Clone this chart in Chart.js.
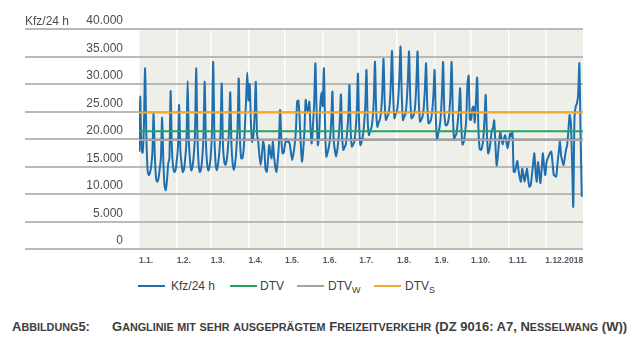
<!DOCTYPE html>
<html lang="de">
<head>
<meta charset="utf-8">
<script src="https://cdn.jsdelivr.net/npm/chart.js@4.4.1/dist/chart.umd.min.js"></script>
<style>
  body { margin:0; background:#fff; font-family:"Liberation Sans", Arial, sans-serif; }
  #wrap { position:relative; width:641px; height:346px; overflow:hidden; }
  #chartBox { position:absolute; left:0; top:0; width:641px; height:275px; }
  .ytitle { position:absolute; left:25px; top:14px; font-size:12px; line-height:14px; color:#4d4d4d; }
  .sw { position:absolute; top:285px; width:27px; height:2px; }
  .leg { position:absolute; top:279px; font-size:12px; line-height:14px; color:#404040; white-space:nowrap; }
  .leg sub { font-size:9px; vertical-align:-3px; line-height:0; }
  .cap { position:absolute; top:320px; font-size:13px; line-height:14px; font-weight:bold; color:#3d3d3d; white-space:nowrap; }
  .cap .sc { font-size:10.8px; text-transform:uppercase; }
</style>
</head>
<body>
<div id="wrap">
  <div id="chartBox"><canvas id="c"></canvas></div>
  <div class="ytitle">Kfz/24 h</div>
  <div id="legend"></div>
  <div class="cap" style="left:12px">Abbildung5:</div>
  <div class="cap" style="left:112px">Ganglinie mit sehr ausgeprägtem Freizeitverkehr (DZ 9016: A7, Nesselwang (W))</div>
</div>
<script>
// Tagesbeginn der Monate (Tag 0 = 1.1.2018)
const monthStarts = [0, 31, 59, 90, 120, 151, 181, 212, 243, 273, 304, 334];
const monthLabels = ['1.1.', '1.2.', '1.3.', '1.4.', '1.5.', '1.6.', '1.7.', '1.8.', '1.9.', '1.10.', '1.11.', '1.12.2018'];
const yTicks = [0, 5000, 10000, 15000, 20000, 25000, 30000, 35000, 40000];

// Kfz/24 h, je Zeile eine Woche (Mo..So)
const kfz = [
  17700, 27700, 18000, 17500, 22000, 32850, 21000,
  14500, 13450, 13800, 15000, 17500, 24700, 17000,
  13000, 12250, 12800, 14500, 16500, 23900, 16000,
  11500, 10700, 12500, 15500, 16500, 28700, 18500,
  15000, 14000, 14300, 16000, 18500, 26200, 18000,
  15500, 14000, 14500, 16500, 19500, 30550, 19500,
  16000, 14300, 15000, 17000, 20500, 32850, 21000,
  15500, 14000, 14500, 16500, 20500, 30400, 19500,
  15500, 14300, 15000, 17000, 21500, 34050, 20500,
  15500, 14300, 15500, 17500, 21000, 30100, 19000,
  16000, 15300, 16000, 18000, 21500, 28500, 19000,
  15500, 14350, 15500, 18000, 22000, 31000, 20000,
  16500, 16500, 18000, 22000, 27000, 32100, 27000,
  30000, 23000, 19500, 20500, 24000, 30400, 21000,
  19500, 17000, 15300, 17000, 19500, 18500, 14500,
  14050, 16000, 18900, 17500, 16500, 19500, 17000,
  15000, 14050, 16000, 19000, 25270, 20000, 17400,
  17500, 19000, 20000, 19500, 19500, 19000, 17400,
  16200, 17400, 19000, 21600, 26800, 27000, 24000,
  19000, 15900, 18000, 21500, 27100, 25500, 25000,
  26800, 22000, 19200, 22500, 26500, 33750, 25000,
  18900, 20500, 26000, 28500, 26000, 32850, 22000,
  16800, 17500, 18500, 20000, 23000, 28600, 20000,
  18000, 16800, 18000, 20000, 23000, 28100, 20500,
  18000, 18500, 19000, 21000, 24000, 29800, 21500,
  18600, 19000, 19500, 21500, 25000, 31900, 22500,
  18900, 19500, 20500, 22500, 26000, 32550, 23500,
  20700, 21500, 22000, 23500, 27000, 34050, 25000,
  22240, 23000, 23500, 25000, 28500, 34550, 26500,
  23450, 24000, 24500, 26000, 30000, 36000, 27500,
  23760, 24500, 25000, 27000, 31000, 36800, 28000,
  23450, 24000, 24500, 26500, 30500, 35900, 27500,
  23760, 24000, 24500, 26000, 30000, 35900, 27000,
  23150, 23500, 24000, 25500, 29000, 33750, 26000,
  22850, 23000, 23500, 25000, 28000, 32550, 24000,
  19800, 21000, 22000, 24000, 28000, 34000, 25000,
  22540, 22500, 23000, 24500, 28000, 34000, 24500,
  20100, 20500, 21000, 23000, 25500, 29200, 22000,
  19000, 19500, 21000, 23500, 30000, 31500, 23500,
  23500, 25500, 25900, 23000, 27000, 31150, 22000,
  18300, 18000, 18500, 20000, 23500, 28000, 21000,
  17400, 18000, 19500, 21500, 22000, 23400, 19000,
  15200, 17000, 19500, 21300, 20000, 19000, 20000,
  20700, 19500, 18300, 19500, 21000, 20500, 21300,
  14050, 14050, 15000, 16000, 14300, 13000, 12250,
  14600, 13500, 12250, 13500, 14600, 12500, 11330,
  11600, 13500, 15500, 17400, 14000, 12250, 15800,
  14000, 12000, 14500, 17400, 15000, 13450, 15800,
  16500, 17000, 17500, 17700, 15500, 13450, 13300,
  13150, 15500, 17500, 19500, 17000, 16000, 15270,
  16500, 18000, 18900, 21500, 24360, 23000, 16000,
  7700, 24000, 25900, 26500, 28000, 33750, 21000,
  9500
];

const dtv = 21400;
const dtvW = 19800;
const dtvS = 24800;

const colKfz = '#1f6fae';
const colDtv = '#22a55b';
const colDtvW = '#a3a3a3';
const colDtvS = '#f4a933';

function fmt(v){
  return String(v).replace(/\B(?=(\d{3})+(?!\d))/g, '.');
}

function flat(v){
  return [{x: 0, y: v}, {x: 365, y: v}];
}

const plotBg = {
  id: 'plotBg',
  beforeDraw(chart){
    const {ctx, chartArea: a} = chart;
    ctx.save();
    ctx.fillStyle = '#efefea';
    ctx.fillRect(a.left, a.top, a.right - a.left, a.bottom - a.top);
    ctx.restore();
  },
  beforeDatasetsDraw(chart){
    const {ctx, chartArea: a} = chart;
    const y = chart.scales.y;
    ctx.save();
    ctx.strokeStyle = '#b9b9b5';
    ctx.lineWidth = 2;
    yTicks.forEach(v => {
      const py = Math.round(y.getPixelForValue(v));
      ctx.beginPath();
      ctx.moveTo(25, py);
      ctx.lineTo(a.right, py);
      ctx.stroke();
    });
    ctx.restore();
  }
};

const line = (label, data, color, order, tension) => ({
  label, data, borderColor: color, backgroundColor: color,
  borderWidth: 2, pointRadius: 0, tension: tension || 0, order, fill: false
});

new Chart(document.getElementById('c'), {
  type: 'line',
  data: {
    datasets: [
      line('DTV_S', flat(dtvS), colDtvS, 0),
      line('DTV', flat(dtv), colDtv, 1),
      line('DTV_W', flat(dtvW), colDtvW, 2),
      line('Kfz/24 h', kfz.map((v, i) => ({x: i, y: v})), colKfz, 3, 0.25)
    ]
  },
  options: {
    responsive: true,
    maintainAspectRatio: false,
    devicePixelRatio: 1,
    animation: false,
    layout: { padding: { top: 29, right: 58, left: 0, bottom: 0 } },
    plugins: { legend: { display: false }, tooltip: { enabled: false } },
    scales: {
      x: {
        type: 'linear', min: 0, max: 365,
        afterBuildTicks: s => { s.ticks = monthStarts.map(v => ({value: v})); },
        afterFit: s => { s.height = 26; },
        grid: { color: '#ffffff', lineWidth: 1.5, drawTicks: false },
        border: { display: false },
        ticks: {
          callback: (v, i) => monthLabels[i],
          align: 'start', autoSkip: false, maxRotation: 0,
          padding: 7, color: '#535a68',
          font: { family: '"Liberation Sans", Arial, sans-serif', size: 8.5, weight: 'bold' }
        }
      },
      y: {
        min: 0, max: 40000,
        afterBuildTicks: s => { s.ticks = yTicks.map(v => ({value: v})); },
        afterFit: s => { s.width = 139; },
        grid: { display: false },
        border: { display: false },
        ticks: {
          callback: v => fmt(v),
          padding: 8, labelOffset: -8, color: '#4d4d4d',
          font: { family: '"Liberation Sans", Arial, sans-serif', size: 12 }
        }
      }
    }
  },
  plugins: [plotBg]
});

// Legende mit tiefgestellten Indizes
const legendItems = [
  {name: 'Kfz/24 h', sub: '', color: colKfz, sw: 138, tx: 171},
  {name: 'DTV', sub: '', color: colDtv, sw: 230, tx: 260},
  {name: 'DTV', sub: 'W', color: colDtvW, sw: 297, tx: 328},
  {name: 'DTV', sub: 'S', color: colDtvS, sw: 374, tx: 405}
];
const lg = document.getElementById('legend');
legendItems.forEach(it => {
  const s = document.createElement('div');
  s.className = 'sw';
  s.style.left = it.sw + 'px';
  s.style.background = it.color;
  lg.appendChild(s);
  const t = document.createElement('div');
  t.className = 'leg';
  t.style.left = it.tx + 'px';
  t.innerHTML = it.name + (it.sub ? '<sub>' + it.sub + '</sub>' : '');
  lg.appendChild(t);
});

// Kapitälchen der Bildunterschrift: Kleinbuchstaben kleiner und groß gesetzt
document.querySelectorAll('.cap').forEach(el => {
  el.innerHTML = el.textContent.replace(/([a-zäöü]+)/g, '<span class="sc">$1</span>');
});
</script>
</body>
</html>
